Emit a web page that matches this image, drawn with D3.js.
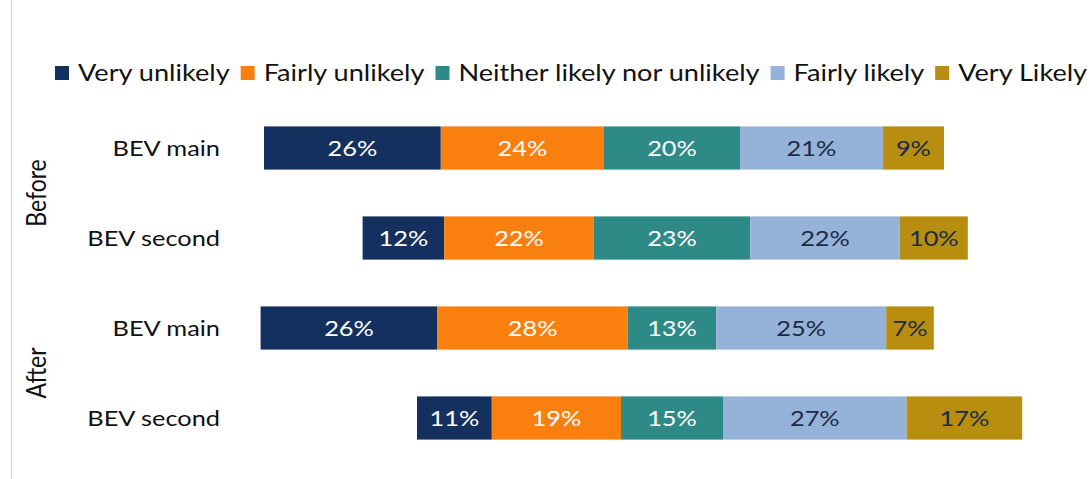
<!DOCTYPE html>
<html>
<head>
<meta charset="utf-8">
<script src="https://cdn.jsdelivr.net/npm/d3@7"></script>
<style>
  html, body { margin: 0; padding: 0; background: #ffffff; }
  svg { display: block; font-family: Lato, "Open Sans", sans-serif; }
</style>
</head>
<body>
<svg id="chart" width="1090" height="479"></svg>
<script>
// Likelihood responses, before and after, for BEV as main or second car
const responses = ["Very unlikely", "Fairly unlikely", "Neither likely nor unlikely", "Fairly likely", "Very Likely"];
const groups = ["Before", "Before", "After", "After"];
const rows = ["BEV main", "BEV second", "BEV main", "BEV second"];
const veryUnlikely   = [26, 12, 26, 11];
const fairlyUnlikely = [24, 22, 28, 19];
const neither        = [20, 23, 13, 15];
const fairlyLikely   = [21, 22, 25, 27];
const veryLikely     = [9, 10, 7, 17];

const colors = ["#14305e", "#f97f0f", "#2e8a86", "#95b2d8", "#b78e10"];
const labelColors = ["#ffffff", "#ffffff", "#ffffff", "#1c2a47", "#1c2a47"];

const series = [veryUnlikely, fairlyUnlikely, neither, fairlyLikely, veryLikely];

const svg = d3.select("#chart");
const W = 1090, H = 479;
const SX = 1.18; // wide lettering: glyphs stretched horizontally

// left frame line
svg.append("line")
  .attr("x1", 11.5).attr("x2", 11.5).attr("y1", 0).attr("y2", H)
  .attr("stroke", "#d4d4d4").attr("stroke-width", 1);

// Diverging layout: bars are centred on the middle of the neutral segment
const x = d3.scaleLinear().domain([-60, 60]).range([264, 1080]);
const rowIds = rows.map((r, i) => i);
const y = d3.scaleBand().domain(rowIds).range([103, 463])
  .paddingInner(0.52).paddingOuter(0.26);

const segs = [];
rowIds.forEach(i => {
  let start = -(veryUnlikely[i] + fairlyUnlikely[i] + neither[i] / 2);
  series.forEach((s, k) => {
    segs.push({ row: i, k, x0: start, x1: start + s[i], v: s[i] });
    start += s[i];
  });
});

svg.append("g").selectAll("rect").data(segs).join("rect")
  .attr("x", d => x(d.x0))
  .attr("width", d => x(d.x1) - x(d.x0))
  .attr("y", d => y(d.row))
  .attr("height", y.bandwidth())
  .attr("fill", d => colors[d.k]);

svg.append("g").selectAll("text").data(segs).join("text")
  .attr("transform", d => `translate(${(x(d.x0) + x(d.x1)) / 2},${y(d.row) + y.bandwidth() / 2}) scale(${SX},1)`)
  .attr("dy", "0.36em")
  .attr("text-anchor", "middle")
  .attr("font-size", 21.5)
  .attr("fill", d => labelColors[d.k])
  .text(d => d.v + "%");

// category labels
svg.append("g").selectAll("text").data(rowIds).join("text")
  .attr("transform", i => `translate(220,${y(i) + y.bandwidth() / 2}) scale(${SX},1)`)
  .attr("dy", "0.36em")
  .attr("text-anchor", "end")
  .attr("font-size", 21.5)
  .attr("fill", "#111")
  .text(i => rows[i]);

// group labels (rotated)
const groupNames = Array.from(new Set(groups));
svg.append("g").selectAll("text").data(groupNames).join("text")
  .attr("transform", g => {
    const idx = rowIds.filter(i => groups[i] === g);
    const cy = (y(idx[0]) + y(idx[idx.length - 1]) + y.bandwidth()) / 2;
    return `translate(46,${cy}) scale(${SX},1) rotate(-90)`;
  })
  .attr("text-anchor", "middle")
  .attr("font-size", 23)
  .attr("fill", "#111")
  .text(g => g);

// legend
const legend = svg.append("g").attr("transform", "translate(55,73)");
let lx = 0;
responses.forEach((r, k) => {
  const g = legend.append("g").attr("transform", `translate(${lx},0)`);
  g.append("rect").attr("x", 0).attr("y", -7).attr("width", 14).attr("height", 14).attr("fill", colors[k]);
  const t = g.append("text").attr("transform", `translate(23,0) scale(${SX},1)`).attr("dy", "0.36em")
    .attr("font-size", 23).attr("fill", "#111").text(r);
  lx += 23 + t.node().getComputedTextLength() * SX + 11;
});
</script>
</body>
</html>
